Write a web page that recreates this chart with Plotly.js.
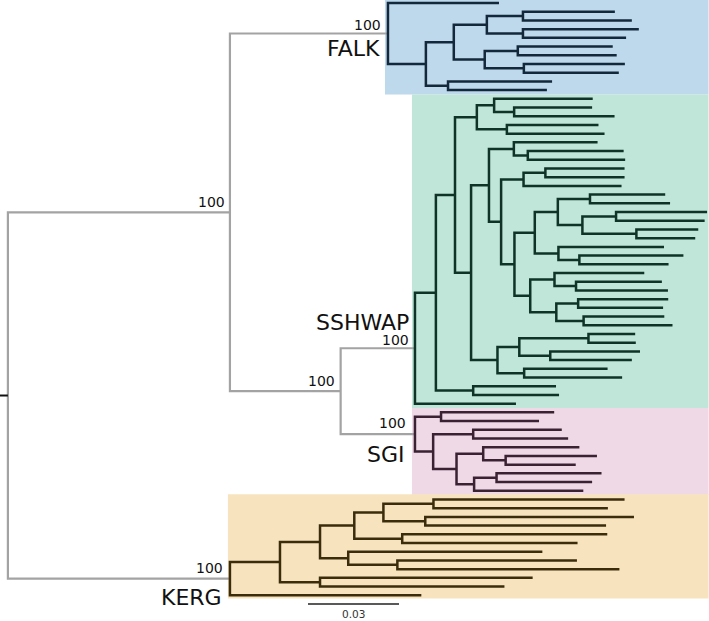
<!DOCTYPE html>
<html><head><meta charset="utf-8">
<script src="https://cdn.plot.ly/plotly-3.0.1.min.js"></script>
<style>html,body{margin:0;padding:0;background:#fff}#chart{width:709px;height:621px}</style>
</head><body><div id="chart"></div>
<script>
// ---------- DATA (branch lengths in substitutions/site) ----------
const backbone = "((FALK:0.0521,(SSHWAP:0.0245,SGI:0.0245)INNER:0.0365)TOP:0.0732,KERG:0.0732)ROOT:0.0026;";
const falkTree = "(f1:0.0366,((((f2:0.0303,f3:0.0359):0.0119,(f4:0.0382,f5:0.0340):0.0119):0.0109,((f6:0.0313,f7:0.0326):0.0109,(f8:0.0333,f9:0.0313):0.0129):0.0102):0.0092,(f10:0.0343,f11:0.0326):0.0073):0.0125)";
const sshwapTree = "(((((s1:0.0325,(s2:0.0257,s3:0.0331):0.0066):0.0057,(s4:0.0302,s5:0.0322):0.0099):0.0072," +
  "(((s6:0.0276,(s7:0.0316,s8:0.0321):0.0046):0.0082,(((s9:0.0261,s10:0.0261):0.0072,s11:0.0323):0.0074," +
  "((((s12:0.0248,s13:0.0264):0.0106,((s14:0.0300,s15:0.0292):0.0111,(s16:0.0204,s17:0.0194):0.0178):0.0081):0.0076," +
  "(s18:0.0348,(s19:0.0343,s20:0.0294):0.0069):0.0078):0.0067," +
  "((s21:0.0296,(s22:0.0283,s23:0.0303):0.0071):0.0080,((s24:0.0297,s25:0.0280):0.0072,(s26:0.0266,s27:0.0293):0.0090):0.0086):0.0052):0.0044):0.0040):0.0059," +
  "(((s28:0.0154,s29:0.0156):0.0228,(s30:0.0296,s31:0.0269):0.0102):0.0072,(s32:0.0275,s33:0.0323):0.0088):0.0087):0.0053):0.0063," +
  "(s34:0.0273,s35:0.0283):0.0123):0.0069,s36:0.0333)";
const sgiTree = "((g1:0.0373,g2:0.0323):0.0086,((g3:0.0292,g4:0.0313):0.0132,((g5:0.0317,(g6:0.0301,g7:0.0231):0.0074):0.0088,((g8:0.0346,g9:0.0315):0.0074,g10:0.0360):0.0058):0.0077):0.0060)";
const kergTree = "((((((k1:0.0630,k2:0.0575):0.0165,(k3:0.0688,k4:0.0596):0.0138):0.0096,(k5:0.0676,k6:0.0578):0.0158):0.0113,(k7:0.0640,(k8:0.0592,k9:0.0732):0.0162):0.0093):0.0132,(k10:0.0701,k11:0.0608):0.0132):0.0165,k12:0.0631)";

const cladeNames = ['FALK', 'SSHWAP', 'SGI', 'KERG'];
const supportNodes = ['TOP', 'INNER', 'FALK', 'SSHWAP', 'SGI', 'KERG'];
const supportValues = [100, 100, 100, 100, 100, 100];
const scaleBarLength = 0.03;
const scaleBarLabel = '0.03';

// ---------- STYLE ----------
const cladeLine = {FALK:'#13283b', SSHWAP:'#0f3327', SGI:'#3a2233', KERG:'#3b2c0b'};
const cladeFill = {FALK:'#bed8ec', SSHWAP:'#bfe6d9', SGI:'#efd9e7', KERG:'#f7e4bf'};
const grayLine = '#a3a3a3';
const FONT = 'DejaVu Sans, Verdana, sans-serif';
const W = 709, H = 621;
const pxPerUnit = 91 / 0.03;      // scale bar: 0.03 spans 91 px
const firstLeafPx = 3, leafPx = 8.71;

// ---------- build tree ----------
let full = backbone
  .replace('FALK:', falkTree + 'FALK:')
  .replace('SSHWAP:', sshwapTree + 'SSHWAP:')
  .replace('SGI:', sgiTree + 'SGI:')
  .replace('KERG:', kergTree + 'KERG:');

function parseNewick(s){
  let i = 0;
  function node(){
    const n = {children:[], name:'', len:0};
    if (s[i] === '('){
      i++;
      n.children.push(node());
      while (s[i] === ','){ i++; n.children.push(node()); }
      i++;
    }
    let name = '';
    while (i < s.length && !':,);'.includes(s[i])) name += s[i++];
    n.name = name;
    if (s[i] === ':'){
      i++; let num = '';
      while (i < s.length && !',);'.includes(s[i])) num += s[i++];
      n.len = parseFloat(num);
    }
    return n;
  }
  return node();
}
const root = parseNewick(full);

let leafIdx = 0;
const byName = {};
function layoutTree(n, px, clade){
  n.x = px + n.len;
  n.clade = cladeNames.includes(n.name) ? n.name : clade;
  if (n.name) byName[n.name] = n;
  if (n.children.length === 0){ n.y = leafIdx++; n.first = n.y; n.last = n.y; }
  else {
    n.children.forEach(c => layoutTree(c, n.x, n.clade));
    n.y = (n.children[0].y + n.children[n.children.length-1].y) / 2;
    n.first = n.children[0].first; n.last = n.children[n.children.length-1].last;
  }
}
layoutTree(root, 0, null);

const groups = {backbone:{x:[],y:[]}};
cladeNames.forEach(c => groups[c] = {x:[], y:[]});
function collect(n){
  if (n.children.length){
    const g = groups[n.clade || 'backbone'];
    const a = n.children[0], b = n.children[n.children.length-1];
    g.x.push(a.x, n.x, n.x, b.x, null);
    g.y.push(a.y, a.y, b.y, b.y, null);
    for (let k = 1; k < n.children.length-1; k++){
      const c = n.children[k];
      g.x.push(n.x, c.x, null); g.y.push(c.y, c.y, null);
    }
    n.children.forEach(collect);
  }
}
collect(root);

const traces = [];
traces.push({x:groups.backbone.x, y:groups.backbone.y, mode:'lines', line:{color:grayLine, width:2.2}, hoverinfo:'skip', showlegend:false});
cladeNames.forEach(c => traces.push({x:groups[c].x, y:groups[c].y, mode:'lines', line:{color:cladeLine[c], width:2.5}, hoverinfo:'skip', showlegend:false}));
traces.push({x:[0, root.x], y:[root.y, root.y], mode:'lines', line:{color:'#111', width:2}, hoverinfo:'skip', showlegend:false});

// scale bar
const sbX0 = 308 / pxPerUnit, sbY = (604 - firstLeafPx) / leafPx;
traces.push({x:[sbX0, sbX0 + scaleBarLength], y:[sbY, sbY], mode:'lines', line:{color:'#222', width:1.3}, hoverinfo:'skip', showlegend:false});

const xRange = [0, W / pxPerUnit];
const yRange = [(H - firstLeafPx) / leafPx, -firstLeafPx / leafPx];

// clade boxes
const boxPad = {FALK:[3, 0.5, 0.5], SSHWAP:[3, 0.5, 0.5], SGI:[3, 0.5, 0.5], KERG:[2, 0.6, 0.37]};
const shapes = cladeNames.map(c => {
  const n = byName[c];
  return {type:'rect', layer:'below', xref:'x', yref:'y',
    x0:n.x - boxPad[c][0] / pxPerUnit, x1:xRange[1] - 0.5 / pxPerUnit,
    y0:n.first - boxPad[c][1], y1:n.last + boxPad[c][2],
    fillcolor:cladeFill[c], line:{width:0}};
});

// annotations
const supOff = {TOP:[-3, 10], INNER:[-4, 10.5], FALK:[-5, 8], SSHWAP:[-4, 8], SGI:[-7, 11], KERG:[-5, 11]};
const annotations = supportNodes.map((nm, i) => {
  const n = byName[nm];
  return {x:n.x, y:n.y, xref:'x', yref:'y', text:String(supportValues[i]), showarrow:false,
    xanchor:'right', yanchor:'middle', xshift:supOff[nm][0], yshift:supOff[nm][1],
    font:{family:FONT, size:14, color:'#111'}};
});
const nameOff = {FALK:[-6, -15], SSHWAP:[-4, 26], SGI:[-8, -20], KERG:[-6, -19]};
cladeNames.forEach(c => {
  const n = byName[c];
  annotations.push({x:n.x, y:n.y, xref:'x', yref:'y', text:c, showarrow:false,
    xanchor:'right', yanchor:'middle', xshift:nameOff[c][0], yshift:nameOff[c][1],
    font:{family:FONT, size:22, color:'#111'}});
});
annotations.push({x:sbX0 + scaleBarLength/2, y:0, xref:'x', yref:'paper',
  text:scaleBarLabel, showarrow:false, xanchor:'center', yanchor:'bottom', borderpad:0,
  font:{family:FONT, size:10.5, color:'#333'}});

const layout = {
  width:W, height:H, margin:{l:0, r:0, t:0, b:0},
  paper_bgcolor:'#fff', plot_bgcolor:'#fff',
  xaxis:{range:xRange, visible:false, fixedrange:true},
  yaxis:{range:yRange, visible:false, fixedrange:true},
  shapes:shapes, annotations:annotations, showlegend:false
};
Plotly.newPlot('chart', traces, layout, {staticPlot:true, displayModeBar:false});
</script></body></html>
